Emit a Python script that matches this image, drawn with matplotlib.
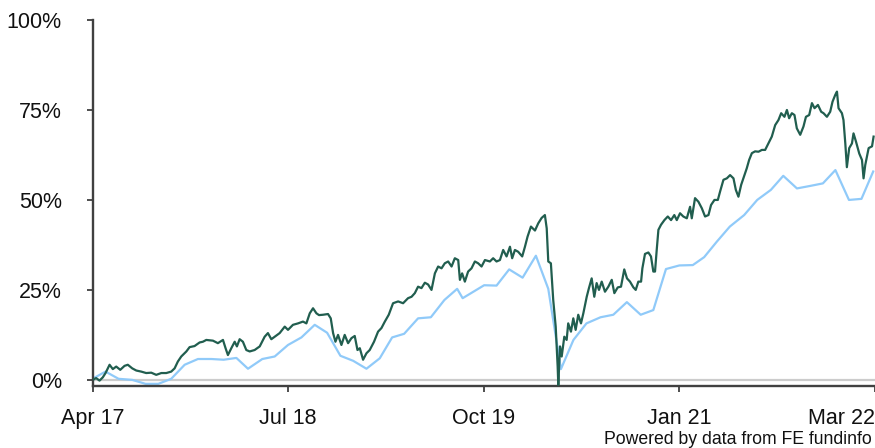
import matplotlib
matplotlib.use("Agg")
import matplotlib.pyplot as plt

plt.rcParams['font.family'] = ['Liberation Sans', 'DejaVu Sans']

# x in months since Apr 2017
tick_pos = [0, 15, 30, 45, 60]
tick_labels = ["Apr 17", "Jul 18", "Oct 19", "Jan 21", "Mar 22"]
y_ticks = [0, 25, 50, 75, 100]
y_labels = ["0%", "25%", "50%", "75%", "100%"]

# Fund (daily, dark green)
fund_t = [0.0, 0.28, 0.54, 0.79, 1.00, 1.31, 1.56, 1.82, 2.13, 2.46, 2.71, 3.05, 3.36, 3.74,
          4.12, 4.51, 4.89, 5.28, 5.66, 6.04, 6.30, 6.55, 6.81, 7.20, 7.45, 7.83, 8.22, 8.47,
          8.73, 9.24, 9.62, 10.01, 10.21, 10.39, 10.65, 10.91, 11.08, 11.29, 11.54, 11.80,
          12.06, 12.44, 12.83, 13.21, 13.46, 13.72, 13.98, 14.36, 14.75, 15.00, 15.38, 15.77,
          16.15, 16.41, 16.67, 16.92, 17.18, 17.38, 17.69, 18.07, 18.28, 18.46, 18.64, 18.84,
          19.10, 19.35, 19.61, 19.87, 20.12, 20.33, 20.51, 20.76, 21.02, 21.27, 21.60, 21.91,
          22.17, 22.43, 22.73, 23.06, 23.45, 23.83, 24.21, 24.48, 24.73, 24.98, 25.24, 25.50,
          25.75, 26.01, 26.27, 26.52, 26.78, 27.03, 27.29, 27.55, 27.80, 28.06, 28.19, 28.36,
          28.57, 28.82, 29.08, 29.34, 29.59, 29.85, 30.11, 30.49, 30.74, 31.00, 31.26, 31.51,
          31.77, 32.03, 32.20, 32.41, 32.66, 32.97, 33.18, 33.38, 33.64, 33.95, 34.20, 34.46,
          34.71, 34.85, 34.97, 35.17, 35.35, 35.54, 35.69, 35.74, 35.87, 36.00, 36.20, 36.38,
          36.50, 36.71, 36.89, 37.07, 37.27, 37.48, 37.66, 37.92, 38.09, 38.30, 38.50, 38.68,
          38.86, 39.07, 39.32, 39.58, 39.84, 40.04, 40.30, 40.55, 40.80, 41.01, 41.24, 41.50,
          41.68, 41.88, 42.09, 42.19, 42.39, 42.65, 42.85, 43.03, 43.16, 43.29, 43.42, 43.62,
          43.88, 44.14, 44.39, 44.64, 44.83, 45.08, 45.33, 45.60, 45.85, 45.98, 46.23, 46.49,
          46.75, 47.00, 47.26, 47.46, 47.72, 47.98, 48.15, 48.41, 48.67, 48.92, 49.18, 49.36,
          49.56, 49.77, 50.02, 50.20, 50.38, 50.59, 50.84, 51.10, 51.36, 51.61, 51.86, 52.12,
          52.38, 52.63, 52.84, 53.09, 53.28, 53.45, 53.66, 53.86, 54.04, 54.30, 54.55, 54.74,
          54.99, 55.20, 55.40, 55.66, 55.91, 56.09, 56.35, 56.60, 56.78, 56.99, 57.12, 57.24,
          57.50, 57.62, 57.76, 57.88, 58.06, 58.27, 58.39, 58.58, 58.83, 59.04, 59.16, 59.29,
          59.55, 59.81, 59.93]
fund_v = [0.0, 0.5, -0.2, 0.7, 1.9, 4.2, 3.0, 3.7, 2.8, 3.9, 4.2, 3.2, 2.6, 2.3,
          1.9, 2.0, 1.4, 1.9, 1.9, 2.3, 3.2, 5.1, 6.5, 7.9, 9.1, 9.4, 10.4, 10.6,
          11.1, 10.9, 10.2, 11.1, 8.8, 6.9, 8.8, 10.6, 9.3, 11.3, 10.6, 8.3,
          7.9, 8.3, 9.3, 12.0, 13.0, 11.3, 12.0, 13.0, 14.8, 13.9, 15.3, 15.7,
          16.2, 15.7, 18.5, 19.9, 18.5, 18.0, 18.1, 18.3, 17.1, 13.0, 10.6, 12.5,
          9.7, 12.5, 10.2, 11.6, 12.2, 8.3, 8.8, 5.6, 7.4, 8.3, 10.6, 13.4,
          14.4, 16.2, 18.1, 21.3, 21.8, 21.3, 22.7, 23.1, 24.1, 25.9, 25.5, 27.0,
          26.5, 25.0, 29.6, 31.5, 31.0, 32.4, 32.9, 31.5, 33.8, 33.3, 27.8, 29.6,
          27.3, 30.1, 31.0, 32.9, 32.4, 31.5, 33.3, 32.9, 33.8, 32.9, 33.3, 36.1,
          34.3, 37.0, 33.8, 36.1, 35.6, 34.3, 37.0, 39.8, 42.6, 41.5, 43.5, 45.0,
          45.8, 42.1, 32.9, 32.4, 22.2, 14.8, 3.7, -1.4, 9.3, 6.5, 12.0, 11.1,
          15.7, 13.4, 17.1, 13.9, 18.1, 15.7, 18.5, 23.1, 25.5, 28.2, 23.1, 26.9,
          25.0, 27.3, 24.5, 25.9, 27.8, 24.1, 25.7, 25.9, 30.7, 28.2, 27.3, 25.7,
          25.0, 27.3, 27.3, 31.0, 35.0, 35.4, 34.3, 30.1, 30.1, 36.1, 41.7, 43.1,
          44.4, 45.4, 44.4, 45.8, 44.4, 46.3, 45.4, 44.9, 48.1, 44.9, 50.5, 49.5,
          47.7, 45.4, 45.8, 48.6, 50.0, 50.0, 52.3, 55.6, 56.0, 56.9, 56.0, 52.8,
          50.9, 54.2, 56.9, 58.8, 61.1, 63.0, 63.5, 63.4, 63.9, 63.9, 65.7, 67.6,
          70.8, 72.2, 74.1, 73.1, 75.0, 72.7, 74.1, 73.6, 69.9, 68.1, 70.4, 73.1,
          73.6, 76.9, 75.5, 76.4, 74.5, 74.1, 73.1, 74.5, 77.3, 79.2, 80.1, 75.5,
          74.1, 72.2, 65.7, 59.1, 64.4, 65.7, 68.5, 66.2, 62.9, 61.1, 56.0, 59.7,
          64.4, 64.9, 67.6]

# Sector / benchmark (monthly, light blue)
bench_t = [0.0, 1.0, 2.0, 3.05, 4.07, 5.05, 6.04, 7.07, 8.09, 9.12, 10.06, 11.04, 11.93,
           13.03, 13.98, 15.0, 16.03, 17.05, 18.0, 19.02, 20.0, 21.02, 22.04, 22.99, 23.91,
           24.98, 25.96, 27.0, 27.98, 28.4, 30.05, 31.0, 31.97, 33.0, 34.02, 34.97, 35.94,
           36.9, 37.9, 38.98, 39.96, 41.0, 42.06, 43.03, 44.0, 45.03, 46.06, 46.93, 47.9,
           48.9, 50.0, 51.0, 52.05, 53.0, 54.05, 55.07, 56.04, 57.0, 58.04, 59.0, 59.9]
bench_v = [0.3, 2.3, 0.3, 0.0, -1.1, -1.1, 0.3, 4.2, 5.8, 5.8, 5.6, 6.1, 3.1,
           5.8, 6.5, 9.7, 11.8, 15.3, 13.1, 6.7, 5.3, 3.1, 6.0, 11.8, 12.8,
           17.1, 17.4, 22.2, 25.3, 22.7, 26.3, 26.2, 30.7, 28.4, 34.5, 25.3, 3.0,
           11.1, 15.7, 17.4, 18.1, 21.6, 18.1, 19.4, 30.8, 31.8, 31.9, 34.1, 38.4,
           42.6, 45.8, 50.0, 52.8, 56.7, 53.2, 53.9, 54.6, 58.3, 50.0, 50.3, 57.9]

fig = plt.figure(figsize=(8.75, 4.48), dpi=100)
ax = fig.add_axes([92.5 / 875, 1 - 386 / 448, (874.5 - 92.5) / 875, (386 - 20) / 448])

ax.axhline(0, color='#cccccc', lw=1.6, zorder=1)
ax.plot(bench_t, bench_v, color='#90caf9', lw=1.6, zorder=2)
ax.plot(fund_t, fund_v, color='#215e4f', lw=1.6, zorder=3)

ax.set_xlim(0, 60)
ax.set_ylim(-1.7, 100)

for s in ['top', 'right']:
    ax.spines[s].set_visible(False)
for s in ['left', 'bottom']:
    ax.spines[s].set_color('#404040')
    ax.spines[s].set_linewidth(1.7)

ax.set_yticks(y_ticks)
ax.set_yticklabels(y_labels)
ax.set_xticks(tick_pos)
ax.set_xticklabels(tick_labels)
ax.tick_params(axis='y', length=4, width=1.3, color='#404040', pad=18, labelsize=15.5, labelcolor='#111111')
ax.tick_params(axis='x', length=4, width=1.3, color='#404040', pad=12, labelsize=15.5, labelcolor='#111111')
xl = ax.get_xticklabels()
xl[-1].set_ha('right')
xl[-1].set_x(60)

fig.text(872 / 875, 1 - 439 / 448, "Powered by data from FE fundinfo", ha='right', va='center',
         fontsize=12.7, color='#111111')

fig.savefig("out.png", dpi=100)
